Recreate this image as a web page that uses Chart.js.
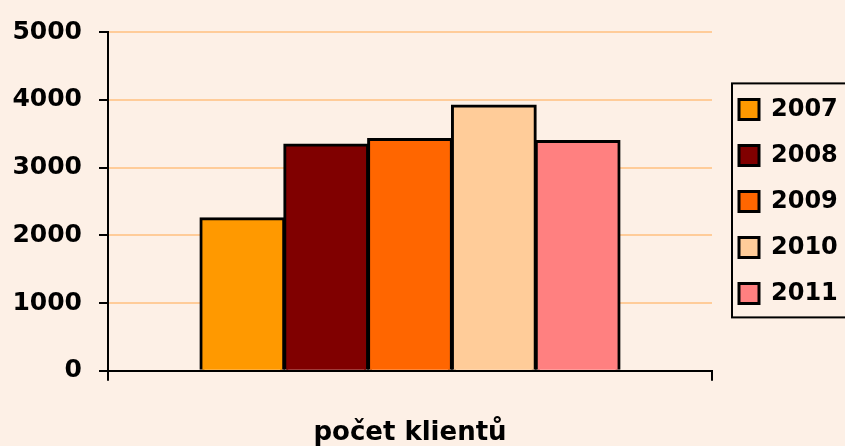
<!DOCTYPE html>
<html>
<head>
<meta charset="utf-8">
<script src="https://cdn.jsdelivr.net/npm/chart.js@4/dist/chart.umd.min.js"></script>
<style>
  html, body { margin: 0; padding: 0; background: #fdf0e6; overflow: hidden; }
  #wrap { width: 845px; height: 446px; }
</style>
</head>
<body>
<div id="wrap"><canvas id="chart" width="845" height="446"></canvas></div>
<script>
const categories = ['počet klientů'];
const years = ['2007', '2008', '2009', '2010', '2011'];
const clients = [2250, 3340, 3420, 3915, 3390];
const colors = ['#ff9900', '#800000', '#ff6600', '#ffcc99', '#ff8080'];
const yTicks = [0, 1000, 2000, 3000, 4000, 5000];

Chart.defaults.font.family = 'DejaVu Sans';
Chart.defaults.font.weight = 'bold';
Chart.defaults.color = '#000';

// paper colour behind everything + the frame round the legend
const paper = {
  id: 'paper',
  beforeDraw(chart) {
    const ctx = chart.ctx;
    ctx.save();
    ctx.fillStyle = '#fdf0e6';
    ctx.fillRect(0, 0, chart.width, chart.height);
    ctx.restore();
  },
  afterLayout(chart) {
    // push the legend a bit away from the plot
    chart.legend.left += 5;
    chart.legend.right += 5;
  },
  afterDraw(chart) {
    const boxes = chart.legend.legendHitBoxes;
    if (!boxes || !boxes.length) return;
    const first = boxes[0];
    const last = boxes[boxes.length - 1];
    const ctx = chart.ctx;
    ctx.save();
    ctx.strokeStyle = '#000';
    ctx.lineWidth = 2;
    ctx.strokeRect(chart.legend.left + 15, first.top - 14, 200, last.top + last.height - first.top + 26);
    ctx.restore();
  }
};

const datasets = years.map((year, i) => ({
  label: year,
  data: [clients[i]],
  backgroundColor: colors[i],
  borderColor: '#000',
  borderWidth: 3,
  borderSkipped: 'bottom',
  inflateAmount: 1,
  categoryPercentage: 0.694,
  barPercentage: 1,
}));

const elem = document.getElementById('chart');
const config = {
  type: 'bar',
  data: {
    labels: categories,
    datasets: datasets,
  },
  options: {
    responsive: false,
    animation: false,
    layout: {
      padding: { top: 30, right: 13, bottom: 0, left: 0 },
    },
    plugins: {
      tooltip: { enabled: false },
      legend: {
        position: 'right',
        fullSize: false,
        maxWidth: 120,
        labels: {
          boxWidth: 20,
          boxHeight: 20,
          padding: 22,
          font: { size: 24, weight: 'bold' },
          color: '#000',
        },
      },
    },
    scales: {
      x: {
        grid: {
          offset: true,
          drawOnChartArea: false,
          tickLength: 10,
          tickColor: '#000',
          lineWidth: 2,
        },
        border: { color: '#000', width: 2 },
        ticks: { display: false },
        title: {
          display: true,
          text: categories[0],
          font: { size: 26, weight: 'bold' },
          color: '#000',
          padding: { top: 37, bottom: -3 },
        },
      },
      y: {
        min: yTicks[0],
        max: yTicks[yTicks.length - 1],
        afterBuildTicks(scale) {
          scale.ticks = yTicks.map(v => ({ value: v }));
        },
        afterFit(scale) {
          scale.width = 108;
        },
        grid: {
          color: '#ffcc99',
          lineWidth: 2,
          tickColor: '#000',
          tickLength: 9,
        },
        border: { color: '#000', width: 2 },
        ticks: {
          padding: 17,
          font: { size: 25, weight: 'bold' },
          color: '#000',
          callback: v => String(v),
        },
      },
    },
  },
  plugins: [paper],
};
const chart = new Chart(elem, config);
</script>
</body>
</html>
